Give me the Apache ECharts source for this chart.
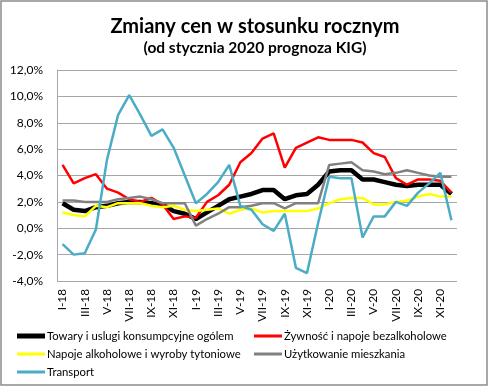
<!DOCTYPE html>
<html><head><meta charset="utf-8">
<script src="https://cdn.jsdelivr.net/npm/echarts@6/dist/echarts.min.js"></script>
<style>html,body{margin:0;padding:0;background:#fff}#c{width:488px;height:386px}</style>
</head><body><div id="c"></div>
<script>
const categories = ['I-18','II-18','III-18','IV-18','V-18','VI-18','VII-18','VIII-18','IX-18','X-18','XI-18','XII-18',
  'I-19','II-19','III-19','IV-19','V-19','VI-19','VII-19','VIII-19','IX-19','X-19','XI-19','XII-19',
  'I-20','II-20','III-20','IV-20','V-20','VI-20','VII-20','VIII-20','IX-20','X-20','XI-20','XII-20'];
const cpiTotal = [1.9,1.4,1.3,1.6,1.7,1.9,2.0,2.0,1.9,1.8,1.3,1.1, 0.7,1.2,1.7,2.2,2.4,2.6,2.9,2.9,2.2,2.5,2.6,3.3, 4.3,4.4,4.4,3.7,3.7,3.5,3.3,3.2,3.3,3.3,3.3,2.6];
const food = [4.8,3.4,3.8,4.1,3.0,2.7,2.2,2.0,2.3,1.8,0.7,0.9, 0.8,2.0,2.5,3.3,5.0,5.7,6.8,7.2,4.6,6.1,6.5,6.9, 6.7,6.7,6.7,6.5,5.7,5.4,3.8,3.3,3.7,3.7,3.6,2.7];
const alcohol = [1.2,1.0,0.9,1.7,1.6,1.9,1.9,1.9,1.7,1.6,1.7,1.4, 1.3,1.4,1.5,1.1,1.4,1.5,1.2,1.3,1.3,1.3,1.3,1.5, 1.9,2.2,2.3,2.3,1.8,1.8,2.0,2.1,2.4,2.6,2.4,2.4];
const housing = [2.1,2.1,2.0,2.0,2.0,2.2,2.3,2.4,2.2,1.9,1.9,1.9, 0.2,0.7,1.1,1.6,1.6,1.7,1.9,1.9,1.5,1.9,1.9,1.9, 4.8,4.9,5.0,4.4,4.3,4.1,4.2,4.4,4.2,4.0,3.9,3.9];
const transport = [-1.2,-2.0,-1.9,-0.1,5.2,8.6,10.1,8.6,7.0,7.5,6.1,4.0, 1.9,2.6,3.5,4.8,1.7,1.4,0.3,-0.2,1.1,-3.0,-3.4,0.4, 3.9,3.8,3.8,-0.7,0.9,0.9,2.0,1.7,2.7,3.4,4.2,0.6];
const seriesNames = ['Towary i uslugi konsumpcyjne ogólem','Żywność i napoje bezalkoholowe','Napoje alkoholowe i wyroby tytoniowe','Użytkowanie mieszkania','Transport'];
const titleText = 'Zmiany cen w stosunku rocznym';
const subtitleText = '(od stycznia 2020 prognoza KIG)';

const FONT = 'Lato';
const colors = ['#000000','#ff0000','#ffff00','#808080','#4bacc6'];
const widths = [4.5,2.5,2.5,2.5,2.5];
const dataArr = [cpiTotal, food, alcohol, housing, transport];
// legend slot per series: [left, top]
const legendPos = [[17,329],[254,329],[17,347],[254,347],[17,365]];

const chart = echarts.init(document.getElementById('c'), null, {renderer:'canvas'});
chart.setOption({
  animation:false,
  backgroundColor:'#fff',
  textStyle:{fontFamily:FONT},
  graphic:[
    {type:'rect', shape:{x:1,y:1,width:486,height:384}, style:{fill:'none', stroke:'#8c8c8c', lineWidth:1.5}, z:-1},
    {type:'text', x:255, y:27, style:{text:titleText, font:'bold 20px '+FONT, fill:'#000', textAlign:'center', textVerticalAlign:'middle'}},
    {type:'text', x:255, y:48, style:{text:subtitleText, font:'bold 15.5px '+FONT, fill:'#000', textAlign:'center', textVerticalAlign:'middle'}}
  ],
  grid:{left:57, right:31, top:70, bottom:105, containLabel:false},
  xAxis:{
    type:'category', data:categories, boundaryGap:true,
    axisLine:{show:false}, axisTick:{show:false},
    axisLabel:{interval:1, rotate:90, fontSize:11.8, color:'#000', fontFamily:FONT, margin:8}
  },
  yAxis:{
    type:'value', min:-4, max:12, interval:2,
    axisLine:{show:true, lineStyle:{color:'#a6a6a6', width:1}},
    axisTick:{show:false},
    splitLine:{lineStyle:{color:'#a6a6a6', width:1}},
    axisLabel:{fontSize:12, color:'#000', fontFamily:FONT, margin:14,
      formatter:v=>v.toFixed(1).replace('.',',')+'%'}
  },
  legend: seriesNames.map((n,i)=>({
    left:legendPos[i][0], top:legendPos[i][1], orient:'horizontal', padding:0,
    itemWidth:28, itemHeight:(i===0?5:3), icon:'rect',
    data:[n],
    textStyle:{fontSize:11.3, lineHeight:14, color:'#000', fontFamily:FONT, padding:[0,0,0,-3]}
  })),
  series: seriesNames.map((n,i)=>({
    name:n, type:'line', data:dataArr[i], symbol:'none', smooth:false,
    lineStyle:{color:colors[i], width:widths[i]}, itemStyle:{color:colors[i]},
    z: 2+i
  }))
});
</script></body></html>
